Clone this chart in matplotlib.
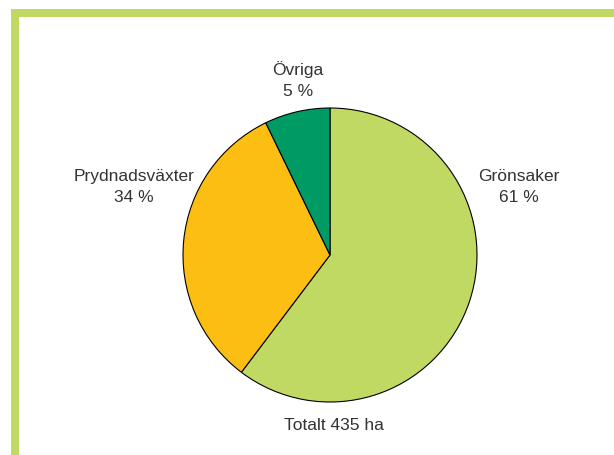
import matplotlib
matplotlib.use("Agg")
import matplotlib.pyplot as plt
from matplotlib import font_manager
from matplotlib.patches import Rectangle

# slice sizes as drawn, and the printed labels
categories = ["Grönsaker", "Prydnadsväxter", "Övriga"]
slice_sizes = [60.3, 32.5, 7.2]
pct_labels = ["61 %", "34 %", "5 %"]
total_label = "Totalt 435 ha"
colors = ["#BFD962", "#FDBE14", "#009B65"]

names = {f.name for f in font_manager.fontManager.ttflist}
family = "Liberation Sans Narrow" if "Liberation Sans Narrow" in names else "Liberation Sans"
plt.rcParams["font.family"] = [family, "DejaVu Sans"]

W, H = 614, 455
fig = plt.figure(figsize=(W / 100, H / 100), dpi=100)
ax = fig.add_axes([0, 0, 1, 1])
ax.set_xlim(0, W)
ax.set_ylim(0, H)
ax.set_aspect("equal")
ax.axis("off")

# green frame (top and left)
green = "#BFD962"
ax.add_patch(Rectangle((11, 0), 8, H - 9, color=green, lw=0))
ax.add_patch(Rectangle((11, H - 17), W - 11, 8, color=green, lw=0))

ax.pie(slice_sizes, colors=colors, startangle=90, counterclock=False,
       center=(330, H - 255), radius=147,
       wedgeprops=dict(edgecolor="black", linewidth=0.8))
ax.set_xlim(0, W)
ax.set_ylim(0, H)

label_pos = {"Grönsaker": (519, H - 187),
             "Prydnadsväxter": (134, H - 187),
             "Övriga": (298, H - 80)}
for name, pct in zip(categories, pct_labels):
    x, y = label_pos[name]
    ax.text(x, y, f"{name}\n{pct}", ha="center", va="center",
            fontsize=12.5, color="#333333", linespacing=1.45)

ax.text(334, H - 425, total_label, ha="center", va="center",
        fontsize=12.5, color="#333333")

fig.savefig("out.png", dpi=100)
